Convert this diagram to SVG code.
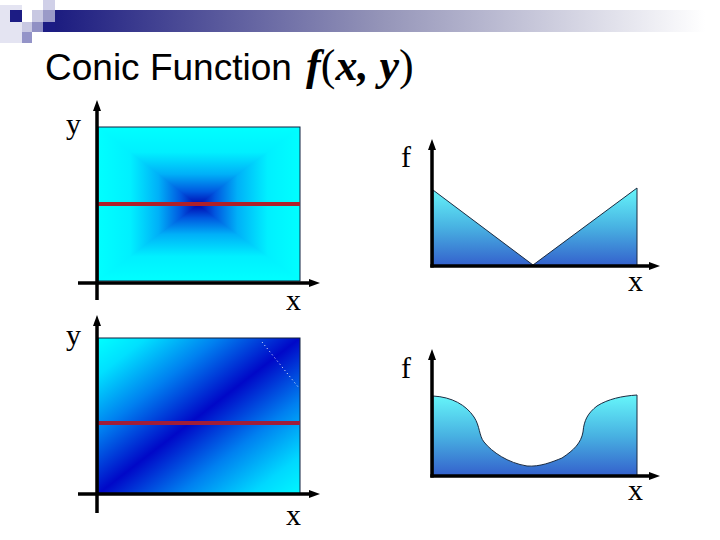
<svg xmlns="http://www.w3.org/2000/svg" width="720" height="540" viewBox="0 0 720 540">
<style>
.ax{stroke:#000;stroke-width:3.5;fill:none}
.ah{fill:#000}
.lbl{font-family:"Liberation Serif","Times New Roman",serif;font-size:30px;fill:#000}
.ser{font-family:"Liberation Serif","Times New Roman",serif;font-size:44px}
.bi{font-style:italic;font-weight:bold}
.red1{stroke:#b0202a;stroke-width:4}
.red2{stroke:#a01e3a;stroke-width:4}
.edge{stroke:#102040;stroke-width:1}
.curve{stroke:#1a2a40;stroke-width:1}
</style>
<defs>
<linearGradient id="bar" x1="55" y1="0" x2="705" y2="0" gradientUnits="userSpaceOnUse">
<stop offset="0" stop-color="#1c1c80"/>
<stop offset="0.5" stop-color="#9494b8"/>
<stop offset="1" stop-color="#ffffff"/>
</linearGradient>
<linearGradient id="pyrH" x1="98" y1="0" x2="300" y2="0" gradientUnits="userSpaceOnUse">
<stop offset="0" stop-color="#00ffff"/>
<stop offset="0.16" stop-color="#00f0ff"/>
<stop offset="0.30" stop-color="#00b0f8"/>
<stop offset="0.41" stop-color="#0058e0"/>
<stop offset="0.495" stop-color="#0008b0"/>
<stop offset="0.58" stop-color="#0058e0"/>
<stop offset="0.69" stop-color="#00b0f8"/>
<stop offset="0.84" stop-color="#00f0ff"/>
<stop offset="1" stop-color="#00ffff"/>
</linearGradient>
<linearGradient id="pyrV" x1="0" y1="127" x2="0" y2="281" gradientUnits="userSpaceOnUse">
<stop offset="0" stop-color="#00ffff"/>
<stop offset="0.164" stop-color="#00f0ff"/>
<stop offset="0.306" stop-color="#00b0f8"/>
<stop offset="0.420" stop-color="#0058e0"/>
<stop offset="0.506" stop-color="#0008b0"/>
<stop offset="0.590" stop-color="#0058e0"/>
<stop offset="0.698" stop-color="#00b0f8"/>
<stop offset="0.840" stop-color="#00f0ff"/>
<stop offset="1" stop-color="#00ffff"/>
</linearGradient>
<linearGradient id="diag" x1="0" y1="0" x2="1" y2="1">
<stop offset="0" stop-color="#00ffff"/>
<stop offset="0.12" stop-color="#00e0ff"/>
<stop offset="0.3" stop-color="#0080f0"/>
<stop offset="0.5" stop-color="#0008c8"/>
<stop offset="0.7" stop-color="#0080f0"/>
<stop offset="0.88" stop-color="#00d8ff"/>
<stop offset="1" stop-color="#00f8ff"/>
</linearGradient>
<linearGradient id="area1" x1="0" y1="188" x2="0" y2="266" gradientUnits="userSpaceOnUse">
<stop offset="0" stop-color="#66f6fa"/>
<stop offset="0.5" stop-color="#48b2e2"/>
<stop offset="1" stop-color="#3460cc"/>
</linearGradient>
<linearGradient id="area2" x1="0" y1="395" x2="0" y2="476" gradientUnits="userSpaceOnUse">
<stop offset="0" stop-color="#66f6fa"/>
<stop offset="0.5" stop-color="#48b2e2"/>
<stop offset="1" stop-color="#3460cc"/>
</linearGradient>
</defs>

<g id="header">
<rect x="0" y="5" width="22" height="38" fill="#e4e4f2"/>
<rect x="43" y="10" width="677" height="22" fill="url(#bar)"/>
<rect x="10" y="10" width="12" height="12" fill="#1c1c84"/>
<rect x="32" y="10" width="11" height="12" fill="#c8c8e2"/>
<rect x="43" y="0" width="12" height="10" fill="#d0d0e8"/>
<rect x="43" y="10" width="12" height="12" fill="#9a9ac8"/>
<rect x="22" y="22" width="10" height="10" fill="#c8c8e2"/>
<rect x="32" y="22" width="11" height="10" fill="#9090c4"/>
<rect x="43" y="22" width="12" height="10" fill="#1c1c84"/>
<rect x="22" y="32" width="10" height="11" fill="#9494c8"/>
</g>

<g id="title">
<text x="45" y="80" font-family="'Liberation Sans',Arial,sans-serif" font-size="37" fill="#000">Conic Function <tspan class="ser bi" dx="4">f</tspan><tspan class="ser">(</tspan><tspan class="ser bi">x, y</tspan><tspan class="ser">)</tspan></text>
</g>

<g id="plot-cone">
<rect x="98" y="127" width="202" height="154" fill="url(#pyrH)"/>
<path d="M98 127 L300 127 L198 205 Z M98 281 L300 281 L198 205 Z" fill="url(#pyrV)"/>
<rect x="98" y="127" width="202" height="154" fill="none" class="edge"/>
<line x1="96" y1="204" x2="300" y2="204" class="red1"/>
<text x="66" y="134" class="lbl">y</text>
<text x="286" y="310" class="lbl">x</text>
</g>

<g id="plot-diag">
<rect x="98" y="338" width="202" height="156" fill="url(#diag)"/>
<rect x="98" y="338" width="202" height="156" fill="none" class="edge"/>
<line x1="262" y1="342" x2="299" y2="388" stroke="#ffffff" stroke-width="1" stroke-dasharray="1 3"/>
<line x1="96" y1="423" x2="300" y2="423" class="red2"/>
<text x="66" y="345" class="lbl">y</text>
<text x="286" y="525" class="lbl">x</text>
</g>

<g id="plot-v">
<path d="M433 190 L533 265 L637 188 L637 266 L433 266 Z" fill="url(#area1)" class="curve"/>
<text x="401" y="167" class="lbl">f</text>
<text x="628" y="291" class="lbl">x</text>
</g>

<g id="plot-u">
<path d="M433 396 C452 397 466 405 474 417 C480 426 479 436 484 442 C492 452 508 463 527 466 C540 467 552 462 562 458 C574 450 581 443 583 432 C584 420 588 413 597 406 C608 399 622 396 637 395 L637 476 L433 476 Z" fill="url(#area2)" class="curve"/>
<text x="401" y="378" class="lbl">f</text>
<text x="628" y="500" class="lbl">x</text>
</g>

<g id="connectors">
<line x1="97" y1="300" x2="97" y2="109" class="ax"/>
<polygon points="97,100 93,111 101,111" class="ah"/>
<line x1="78" y1="283" x2="311" y2="283" class="ax"/>
<polygon points="320,283 309,279 309,287" class="ah"/>

<line x1="97" y1="513" x2="97" y2="324" class="ax"/>
<polygon points="97,315 93,326 101,326" class="ah"/>
<line x1="78" y1="494" x2="311" y2="494" class="ax"/>
<polygon points="320,494 309,490 309,498" class="ah"/>

<line x1="432" y1="267.5" x2="432" y2="148" class="ax"/>
<polygon points="432,139 428,150 436,150" class="ah"/>
<line x1="430.3" y1="266" x2="651" y2="266" class="ax"/>
<polygon points="660,266 649,262 649,270" class="ah"/>

<line x1="432" y1="477.5" x2="432" y2="358" class="ax"/>
<polygon points="432,349 428,360 436,360" class="ah"/>
<line x1="430.3" y1="476" x2="651" y2="476" class="ax"/>
<polygon points="660,476 649,472 649,480" class="ah"/>
</g>
</svg>
